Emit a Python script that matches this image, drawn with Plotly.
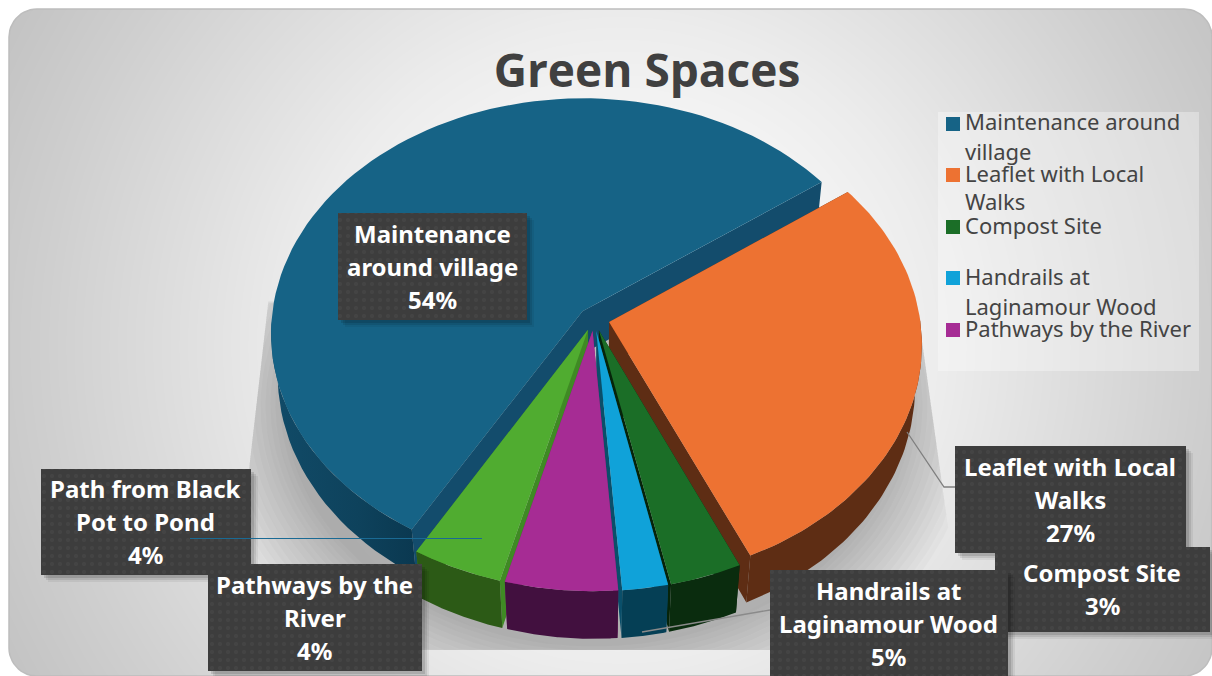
"""Green Spaces: exploded 3D-look pie drawn with filled Plotly scatter traces."""

import numpy as np
import plotly.graph_objects as go

WIDTH = 1212
HEIGHT = 676

categories = [
    "Maintenance around village",
    "Leaflet with Local Walks",
    "Compost Site",
    "Handrails at Laginamour Wood",
    "Pathways by the River",
    "Path from Black Pot to Pond",
]
slice_share = [56.65, 28.2, 3.4, 2.15, 5.3, 4.3]
label_pct = [54, 27, 3, 5, 4, 4]

face_colors = ["#166386", "#ED7232", "#1B6E27", "#10A2D9", "#A62C94", "#50AC30"]
rim_colors = ["#0D3F5A", "#5E2D14", "#0A2C0E", "#053F55", "#42103F", "#2C5A16"]
side_colors = ["#134C6C", "#5E2D14", "#06240A", "#0A4F6A", "#7A1F70", "#3F8A24"]

label_lines = [
    ["Maintenance", "around village"],
    ["Leaflet with Local", "Walks"],
    ["Compost Site"],
    ["Handrails at", "Laginamour Wood"],
    ["Pathways by the", "River"],
    ["Path from Black", "Pot to Pond"],
]
# x0, x1, y0, y1 and first text line y of every label box
label_boxes = [
    (338, 527, 213, 320, 233),
    (955, 1186, 446, 553, 466),
    (995, 1210, 547, 632, 572),
    (770, 1008, 570, 680, 590),
    (208, 422, 564, 671, 584),
    (41, 251, 469, 575, 488),
]
box_order = [0, 1, 2, 3, 5, 4]

legend_lines = [
    ["Maintenance around", "village"],
    ["Leaflet with Local", "Walks"],
    ["Compost Site"],
    ["Handrails at", "Laginamour Wood"],
    ["Pathways by the River"],
]
legend_text_y = [[121, 151], [173, 201], [225], [276, 306], [328]]
legend_swatch_y = [124, 175, 227, 278, 330]

# pie projection, in page pixels
CX, CY = 594, 319
A, B = 311, 234
K = 0.0928
PULL = 0.05
DEPTH = 43
VANISH = (594, 2400)
START = 54.2


def project(px, py):
    w = 1 + K * py
    return CX + A * px / w, CY - B * py / w, w


def lower(x, y, w):
    # same point on the underside of the pie
    dx, dy = VANISH[0] - x, VANISH[1] - y
    dist = np.hypot(dx, dy)
    return x + dx / dist * DEPTH / w, y + dy / dist * DEPTH / w


def slice_points(a0, a1):
    mid = np.radians((a0 + a1) / 2)
    ox, oy = PULL * np.sin(mid), PULL * np.cos(mid)
    t = np.radians(np.linspace(a0, a1, 90))
    rx, ry, rw = project(ox + np.sin(t), oy + np.cos(t))
    ax, ay, aw = project(ox, oy)
    return (rx, ry, rw), (float(ax), float(ay), float(aw))


def poly(fig, x, y, color, **kw):
    fig.add_trace(
        go.Scatter(
            x=list(x),
            y=list(y),
            mode="lines",
            fill="toself",
            fillcolor=color,
            line=dict(width=0),
            hoverinfo="skip",
            showlegend=False,
            **kw,
        )
    )


fig = go.Figure()

# background
grid_x = np.linspace(0, WIDTH, 62)
grid_y = np.linspace(0, HEIGHT, 36)
gx, gy = np.meshgrid(grid_x, grid_y)
fig.add_trace(
    go.Heatmap(
        x=grid_x,
        y=grid_y,
        z=np.hypot(gx - 620, gy - 345),
        zmin=0,
        zmax=720,
        zsmooth="best",
        showscale=False,
        hoverinfo="skip",
        colorscale=[[0, "#ffffff"], [0.2, "#fbfbfb"], [0.45, "#ececec"], [0.8, "#cfcfcf"], [1, "#c0c0c0"]],
    )
)

# white outside of the rounded card
R = 28
L, T, RT, BT = 9, 9, 1212, 676
arc = np.linspace(0, np.pi / 2, 14)
card_x = np.concatenate([
    L + R - R * np.cos(arc), RT - R + R * np.sin(arc),
    RT - R + R * np.cos(arc), L + R - R * np.sin(arc),
])
card_y = np.concatenate([
    T + R - R * np.sin(arc), T + R - R * np.cos(arc),
    BT - R + R * np.sin(arc), BT - R + R * np.cos(arc),
])
card_x = np.append(card_x, card_x[0])
card_y = np.append(card_y, card_y[0])
outer_x = [-3, -3, WIDTH + 3, WIDTH + 3, -3, -3]
outer_y = [card_y[0], HEIGHT + 3, HEIGHT + 3, -3, -3, card_y[0]]
poly(fig, np.concatenate([card_x, outer_x]), np.concatenate([card_y, outer_y]), "#ffffff")
fig.add_trace(
    go.Scatter(
        x=card_x, y=card_y, mode="lines", line=dict(color="#bdbdbd", width=1.5),
        hoverinfo="skip", showlegend=False,
    )
)

# soft shadow under the pie, cut off by the old plot area
t_all = np.radians(np.linspace(0, 360, 181))
sx, sy, sw = project(np.sin(t_all), np.cos(t_all))
sx, sy = lower(sx, sy, sw)
for grow in [76, 70, 64, 58, 52, 46, 40, 34, 28, 23, 18, 13, 8, 4]:
    gx0 = CX + (sx - CX) * (1 + grow / A)
    gy0 = CY + 18 + (sy - CY) * (1 + grow / B * 0.8)
    left_cut = 273 - (gy0 - 260) * 0.115
    right_cut = 921 + (gy0 - 333) * 0.14
    keep = gy0 > 300
    poly(
        fig,
        np.clip(gx0[keep], left_cut[keep], right_cut[keep]),
        np.clip(gy0[keep], None, 650),
        "rgba(0,0,0,0.019)",
    )

# slices: the first one starts at the lower left and wraps over the top, the rest run on from START
spans = []
cursor = START
for share in slice_share[1:]:
    spans.append((cursor, cursor + share * 3.6))
    cursor += share * 3.6
spans.insert(0, (cursor, cursor + slice_share[0] * 3.6))

# back to front
for i in [0, 1, 2, 3, 5, 4]:
    (rx, ry, rw), (ax, ay, aw) = slice_points(*spans[i])
    bx, by = lower(rx, ry, rw)
    abx, aby = lower(ax, ay, aw)

    side_x = [ax, rx[0], bx[0], abx, None, ax, rx[-1], bx[-1], abx]
    side_y = [ay, ry[0], by[0], aby, None, ay, ry[-1], by[-1], aby]
    poly(fig, side_x, side_y, side_colors[i])
    kw = {}
    if i == 0:
        kw = dict(fillgradient=dict(
            type="horizontal",
            colorscale=[[0, "#114B68"], [0.6, "#0E425C"], [1, "#0A3850"]],
        ))
    # only the near part of the outer wall can be seen
    near = ry > CY
    poly(fig, np.r_[rx[near], bx[near][::-1]], np.r_[ry[near], by[near][::-1]], rim_colors[i], **kw)
    poly(fig, np.r_[ax, rx, ax], np.r_[ay, ry, ay], face_colors[i])

# legend panel
poly(fig, [938, 1199, 1199, 938, 938], [112, 112, 371, 371, 112], "rgba(255,255,255,0.33)")

# leader lines
leaders = [
    ([907, 944, 955], [432, 487, 487], "#7f7f7f"),
    ([770, 642], [610, 632], "#8a8a8a"),
]
for lx, ly, lc in leaders:
    fig.add_trace(go.Scatter(x=lx, y=ly, mode="lines", line=dict(color=lc, width=1.3),
                             hoverinfo="skip", showlegend=False))

# label boxes with a soft drop shadow
annotations = []
for i in box_order:
    x0, x1, y0, y1, first_y = label_boxes[i]
    for off, alpha in [(7, 0.06), (5, 0.09), (3, 0.12)]:
        poly(fig, [x0 + off, x1 + off, x1 + off, x0 + off, x0 + off],
             [y0 + off, y0 + off, y1 + off, y1 + off, y0 + off], f"rgba(0,0,0,{alpha})")
    fig.add_trace(
        go.Scatter(
            x=[x0, x1, x1, x0, x0],
            y=[y0, y0, y1, y1, y0],
            mode="lines",
            fill="toself",
            fillcolor="#3d3d3d",
            fillpattern=dict(shape=".", bgcolor="#3d3d3d", fgcolor="#4c4c4c", size=8, solidity=0.2),
            line=dict(width=0),
            hoverinfo="skip",
            showlegend=False,
        )
    )
    lines = label_lines[i] + [f"{label_pct[i]}%"]
    for n, text in enumerate(lines):
        annotations.append(dict(
            x=(x0 + x1) / 2 - 0.5, y=first_y + n * 33, text=text, xref="x", yref="y",
            showarrow=False, xanchor="center", yanchor="middle",
            font=dict(family="Noto Sans", size=24, color="#ffffff", weight="bold"),
        ))

# pointer line from the Path from Black Pot label, on top of everything
fig.add_trace(go.Scatter(x=[190, 482], y=[538.5, 538.5], mode="lines",
                         line=dict(color="#1A6A94", width=1.2), hoverinfo="skip", showlegend=False))

# legend
shapes = []
for i, swatch_y in enumerate(legend_swatch_y):
    shapes.append(dict(type="rect", xref="x", yref="y", x0=946, x1=960, y0=swatch_y - 7, y1=swatch_y + 7,
                       fillcolor=face_colors[i], line=dict(width=0), layer="above"))
    for text, line_y in zip(legend_lines[i], legend_text_y[i]):
        annotations.append(dict(
            x=963, y=line_y, text=text, xref="x", yref="y", showarrow=False,
            xanchor="left", yanchor="middle",
            font=dict(family="Noto Sans", size=22, color="#444444"),
        ))

fig.update_layout(
    width=WIDTH,
    height=HEIGHT,
    margin=dict(l=0, r=0, t=0, b=0),
    paper_bgcolor="#ffffff",
    plot_bgcolor="#ffffff",
    showlegend=False,
    title=dict(
        text="Green Spaces", x=647 / WIDTH, xanchor="center", y=1 - 71 / HEIGHT, yanchor="middle",
        font=dict(family="Open Sans", size=46, color="#404040", weight="bold"),
    ),
    xaxis=dict(range=[0, WIDTH], visible=False, fixedrange=True),
    yaxis=dict(range=[HEIGHT, 0], visible=False, fixedrange=True),
    annotations=annotations,
    shapes=shapes,
)

fig.write_html("out.html", post_script="document.body.style.margin='0';", config={"displayModeBar": False})
